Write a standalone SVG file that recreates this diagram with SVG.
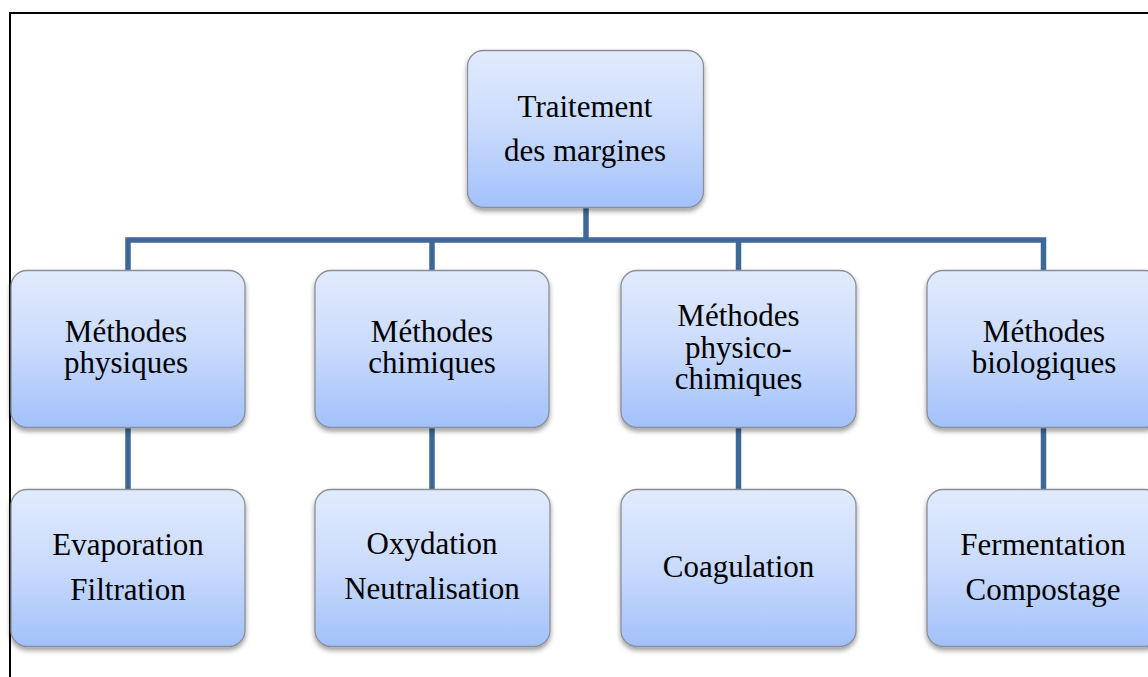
<svg xmlns="http://www.w3.org/2000/svg" width="1148" height="677" viewBox="0 0 1148 677">
<defs>
<linearGradient id="g" x1="0" y1="0" x2="0" y2="1">
<stop offset="0" stop-color="#e1ebfd"/>
<stop offset="0.5" stop-color="#c9dafc"/>
<stop offset="1" stop-color="#a2c1fa"/>
</linearGradient>
<filter id="sh" x="-10%" y="-10%" width="120%" height="130%">
<feDropShadow dx="0" dy="3" stdDeviation="2.5" flood-color="#000" flood-opacity="0.4"/>
</filter>
<style>
.box{fill:url(#g);stroke:#8a8f99;stroke-width:1.3;filter:url(#sh)}
text{font-family:'Liberation Serif','DejaVu Serif',serif;font-size:31px;fill:#000;text-anchor:middle}
.c{fill:none;stroke:#3e6898;stroke-width:5.5;stroke-linejoin:miter}
.frame{fill:none;stroke:#000;stroke-width:2}
</style>
</defs>
<rect width="1148" height="677" fill="#fff"/>
<path class="frame" d="M10,677 V13 H1148"/>
<g id="connectors">
<path class="c" d="M586,207 V240"/>
<path class="c" d="M128,271 V240 H1043.5 V271"/>
<path class="c" d="M432,240 V271"/>
<path class="c" d="M738.5,240 V271"/>
<path class="c" d="M128,427 V489"/>
<path class="c" d="M432,427 V489"/>
<path class="c" d="M738.5,427 V489"/>
<path class="c" d="M1043.5,427 V489"/>
</g>
<g id="root">
<rect class="box" x="467.5" y="50.5" width="236" height="157" rx="16"/>
<text x="585" y="117">Traitement</text>
<text x="585" y="161">des margines</text>
</g>
<g id="physiques">
<rect class="box" x="11" y="270.5" width="234" height="157" rx="16"/>
<text x="126" y="342">Méthodes</text>
<text x="126" y="373">physiques</text>
</g>
<g id="chimiques">
<rect class="box" x="315" y="270.5" width="234" height="157" rx="16"/>
<text x="432" y="342">Méthodes</text>
<text x="432" y="373">chimiques</text>
</g>
<g id="physicochimiques">
<rect class="box" x="621" y="270.5" width="235" height="157" rx="16"/>
<text x="738.5" y="326">Méthodes</text>
<text x="738.5" y="358">physico-</text>
<text x="738.5" y="389">chimiques</text>
</g>
<g id="biologiques">
<rect class="box" x="927" y="270.5" width="234" height="157" rx="16"/>
<text x="1044" y="342">Méthodes</text>
<text x="1044" y="373">biologiques</text>
</g>
<g id="evaporation">
<rect class="box" x="11" y="489.5" width="234" height="157" rx="16"/>
<text x="128" y="555">Evaporation</text>
<text x="128" y="600">Filtration</text>
</g>
<g id="oxydation">
<rect class="box" x="315" y="489.5" width="235" height="157" rx="16"/>
<text x="432" y="554">Oxydation</text>
<text x="432" y="599">Neutralisation</text>
</g>
<g id="coagulation">
<rect class="box" x="621" y="489.5" width="235" height="157" rx="16"/>
<text x="738.5" y="577">Coagulation</text>
</g>
<g id="fermentation">
<rect class="box" x="927" y="489.5" width="234" height="157" rx="16"/>
<text x="1043" y="555">Fermentation</text>
<text x="1043" y="600">Compostage</text>
</g>
</svg>
